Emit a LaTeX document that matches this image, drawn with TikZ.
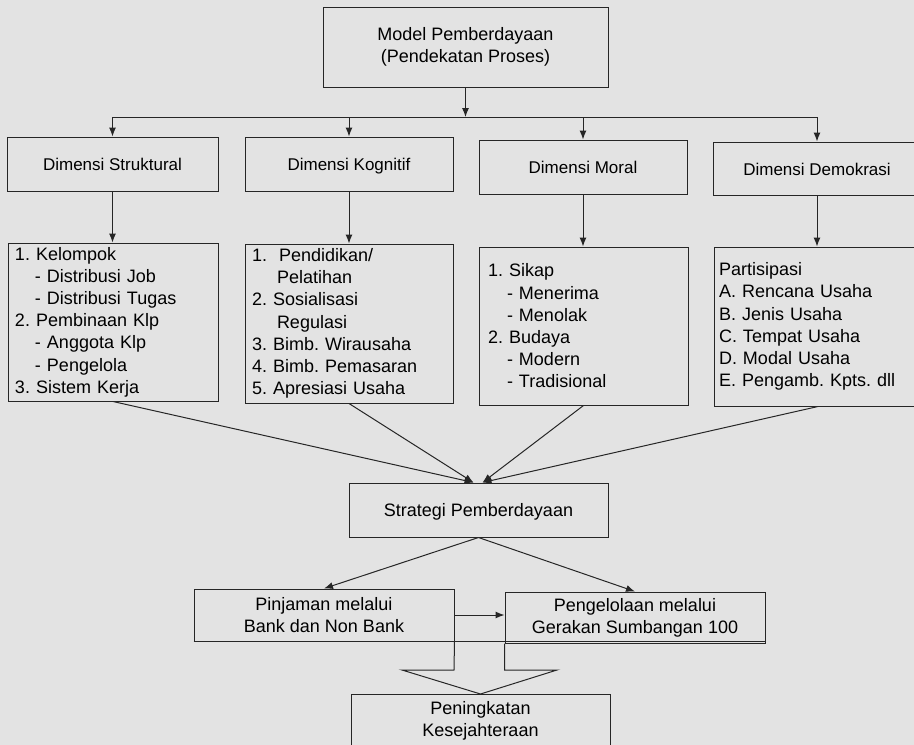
\documentclass[tikz,border=0pt]{standalone}
\usepackage{fontspec}
\setmainfont{Liberation Sans}
\usetikzlibrary{arrows.meta}

\newcommand{\subln}[1][20pt]{\hspace*{#1}}
\tikzset{
  box/.style={draw=black!85, line width=1pt, inner sep=0pt, align=center,
    font=\fontsize{18}{22.2}\selectfont\frenchspacing},
  dimbox/.style={box, text height=13pt, text depth=0pt},
  listbox/.style={box, align=left, inner xsep=7pt, text width=#1},
}

\begin{document}
\begin{tikzpicture}[x=1pt, y=-1pt, >={Latex[length=9pt,width=7pt]}, line width=1pt, draw=black!85]
  \fill[black!11] (0,0) rectangle (914,745);
  \clip (0,0) rectangle (914,745);
  \node[box, minimum width=285pt, minimum height=80pt] (model) at (465.5,47) {Model Pemberdayaan\\(Pendekatan Proses)};
  \coordinate (bus) at (0,117);

  \node[dimbox, font=\fontsize{17}{22}\selectfont, minimum width=211pt, minimum height=54pt] (struk) at (112.5,164) {Dimensi Struktural};
  \node[dimbox, font=\fontsize{17}{22}\selectfont, minimum width=208pt, minimum height=54pt] (kogn) at (349,164) {Dimensi Kognitif};
  \node[dimbox, font=\fontsize{17}{22}\selectfont, minimum width=208pt, minimum height=54pt] (moral) at (583,167) {Dimensi Moral};
  \node[dimbox, font=\fontsize{17}{22}\selectfont, minimum width=208pt, minimum height=53pt] (demo) at (817,168.5) {Dimensi Demokrasi};

  \node[listbox=196pt, minimum height=158pt] (kel) at (113,322) {1. Kelompok\\ \subln- Distribusi Job\\ \subln- Distribusi Tugas\\ 2. Pembinaan Klp\\ \subln- Anggota Klp\\ \subln- Pengelola\\ 3. Sistem Kerja};
  \node[listbox=194pt, minimum height=159pt] (pend) at (349,323.5) {1.\ \ Pendidikan/\\ \subln[25pt]Pelatihan\\ 2. Sosialisasi\\ \subln[25pt]Regulasi\\ 3. Bimb. Wirausaha\\ 4. Bimb. Pemasaran\\ 5. Apresiasi Usaha};
  \node[listbox=191pt, inner xsep=9pt, minimum height=158pt] (sikap) at (583.5,326) {1. Sikap\\ \subln[19pt]- Menerima\\ \subln[19pt]- Menolak\\ 2. Budaya\\ \subln[19pt]- Modern\\ \subln[19pt]- Tradisional};
  \node[listbox=198pt, inner xsep=5pt, minimum height=159pt] (part) at (818,326.5) {Partisipasi\\ A. Rencana Usaha\\ B. Jenis Usaha\\ C. Tempat Usaha\\ D. Modal Usaha\\ E. Pengamb. Kpts. dll};

  \node[dimbox, minimum width=259pt, minimum height=54pt] (strat) at (478.5,510) {Strategi Pemberdayaan};
  \node[box, minimum width=260pt, minimum height=52pt] (pinj) at (324,615) {Pinjaman melalui\\Bank dan Non Bank};
  \node[box, minimum width=260pt, minimum height=51pt] (peng) at (635,617.5) {Pengelolaan melalui\\Gerakan Sumbangan 100};
  \node[box, minimum width=259pt, minimum height=53pt] (ppk) at (480.5,721) {Peningkatan\\Kesejahteraan};

  % dimensi
  \draw[->] (model.south) -- (model.south |- bus);
  \draw (struk.north |- bus) -- (demo.north |- bus);
  \foreach \n in {struk,kogn,moral,demo}
    \draw[->] (\n.north |- bus) -- (\n.north);
  \foreach \a/\b in {struk/kel,kogn/pend,moral/sikap,demo/part}
    \draw[->] (\a.south) -- (\a.south |- \b.north);

  % ke strategi
  \draw[->] (kel.south) -- ([xshift=-5pt]strat.north);
  \draw[->] (pend.south) -- ([xshift=-5pt]strat.north);
  \draw[->] (sikap.south) -- ([xshift=4pt]strat.north);
  \draw[->] (part.south) -- ([xshift=4pt]strat.north);

  \draw[->] (strat.south) -- (pinj.north);
  \draw[->] (strat.south) -- (peng.north);
  \draw[->] (pinj.east) -- (pinj.east -| peng.west);
  \draw (pinj.south west) -- (pinj.south west -| peng.east);

  % panah blok
  \draw (pinj.south east) -- (454,670) -- (402,670) -- (ppk.north) -- (557,670) -- (peng.south west |- 0,670) -- (peng.south west);
\end{tikzpicture}
\end{document}
